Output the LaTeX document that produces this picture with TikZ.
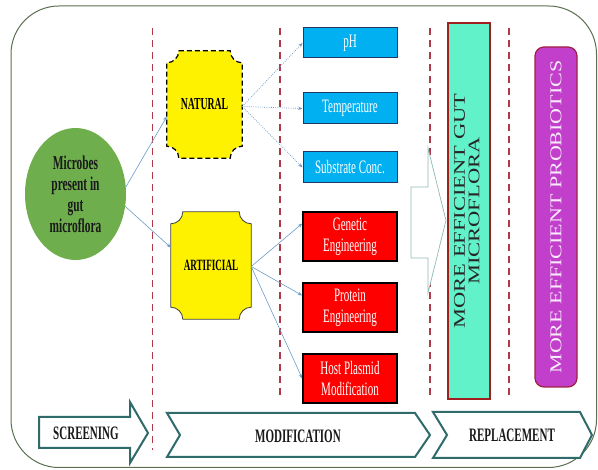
\documentclass[tikz,border=0pt]{standalone}
\usepackage{fontspec}
\setmainfont{Liberation Serif}[FakeStretch=0.58]
\newfontfamily\rotfont{Liberation Serif}
\usetikzlibrary{shapes.geometric,arrows.meta,calc}
\definecolor{framec}{HTML}{5A7050}
\definecolor{dashc}{HTML}{B03A48}
\definecolor{ellc}{HTML}{6FAE4C}
\definecolor{bluec}{HTML}{00B0F0}
\definecolor{bluebd}{HTML}{1F3864}
\definecolor{tealc}{HTML}{62F2CA}
\definecolor{tealbd}{HTML}{A02020}
\definecolor{purc}{HTML}{C23FCC}
\definecolor{purbd}{HTML}{A02040}
\definecolor{arrc}{HTML}{6A9BC8}
\definecolor{chevc}{HTML}{2F6B6B}
\definecolor{holc}{HTML}{8FB8B8}
\newcommand\plaquepath[2]{%
 ($(#1.north west)+(#2,0)$) -- ($(#1.north east)+(-#2,0)$)
 .. controls ($(#1.north east)+(-#2,0.55*#2)$) and ($(#1.north east)+(-0.55*#2,#2)$) .. ($(#1.north east)+(0,#2)$)
 -- ($(#1.south east)+(0,-#2)$)
 .. controls ($(#1.south east)+(-0.55*#2,-#2)$) and ($(#1.south east)+(-#2,-0.55*#2)$) .. ($(#1.south east)+(-#2,0)$)
 -- ($(#1.south west)+(#2,0)$)
 .. controls ($(#1.south west)+(#2,-0.55*#2)$) and ($(#1.south west)+(0.55*#2,-#2)$) .. ($(#1.south west)+(0,-#2)$)
 -- ($(#1.north west)+(0,#2)$)
 .. controls ($(#1.north west)+(0.55*#2,#2)$) and ($(#1.north west)+(#2,0.55*#2)$) .. ($(#1.north west)+(#2,0)$)
 -- cycle}
\begin{document}
\begin{tikzpicture}[x=1pt,y=-1pt,
  sepline/.style={dashc,line width=1.3pt,dash pattern=on 7pt off 5pt},
  arr/.style={arrc,line width=0.6pt,-{Stealth[length=4.5pt,width=3.5pt]}},
  dotarr/.style={arr,dash pattern=on 1pt off 1.2pt},
  bluebox/.style={draw=bluebd,line width=1pt,fill=bluec,minimum width=94pt,minimum height=31pt,text=white,
     font=\fontsize{19}{21}\selectfont,align=center,inner sep=1pt},
  redbox/.style={draw=black,line width=1.5pt,fill=red,minimum width=94pt,minimum height=49pt,text=white,
     font=\fontsize{19}{21}\selectfont,align=center,inner sep=1pt},
  chev/.style={draw=chevc,line width=2pt,fill=white,line join=miter},
  chevtext/.style={font=\bfseries\fontsize{19}{21}\selectfont,text=black!90},
  plaquebox/.style={minimum width=#1,minimum height=107pt,inner sep=0pt},
  plaquetext/.style={font=\bfseries\fontsize{16.8}{19}\selectfont,text=black}
]
\useasboundingbox (0,0) rectangle (598,470);
% frame
\draw[framec,line width=1pt,rounded corners=48pt] (11,6) rectangle (596.5,467.5);
% separators
\draw[sepline] (152.5,28) -- (152.5,450);
\draw[sepline] (280,28) -- (280,395);
\draw[sepline] (430,28) -- (430,395);
\draw[sepline] (509,28) -- (509,395);
% ellipse
\node[ellipse,fill=ellc,minimum width=101pt,minimum height=132pt,inner sep=0pt,align=center,
  font=\bfseries\fontsize{19.6}{21}\selectfont,text=black!90] (mic) at (75.5,194)
  {Microbes\\present in\\gut\\microflora};
% plaques
\node[plaquebox=75pt] (nat) at (204.5,104.5) {};
\draw[fill=yellow,draw=black,line width=1.2pt,dash pattern=on 5pt off 3pt] \plaquepath{nat}{12};
\node[plaquetext] (natt) at (nat) {NATURAL};
\node[plaquebox=80pt] (art) at (211,265.5) {};
\draw[fill=yellow,draw=black!75,line width=0.8pt] \plaquepath{art}{12};
\node[plaquetext,font=\bfseries\fontsize{15.7}{18}\selectfont] (artt) at (art) {ARTIFICIAL};
% blue boxes
\node[bluebox,minimum height=30pt] (ph) at (350,43) {pH};
\node[bluebox] (temp) at (350,108.5) {Temperature};
\node[bluebox] (sub) at (350,167.5) {Substrate Conc.};
% red boxes
\node[redbox] (gen) at (350,236.5) {Genetic\\Engineering};
\node[redbox] (pro) at (350,307.5) {Protein\\Engineering};
\node[redbox] (host) at (350,378.5) {Host Plasmid\\Modification};
% connectors
\draw[arr] (mic.8) -- ($(nat.west)+(0,12)$);
\draw[arr] (mic.-14) -- ($(art.west)+(0,-18)$);
\draw[dotarr] ($(nat.east)+(0,2)$) -- (ph.west);
\draw[dotarr] ($(nat.east)+(0,2)$) -- (temp.west);
\draw[dotarr] ($(nat.east)+(0,2)$) -- (sub.west);
\draw[arr] ($(art.east)+(0,1)$) -- ($(gen.west)+(0,-13)$);
\draw[arr] ($(art.east)+(0,1)$) -- ($(pro.west)+(0,-12)$);
\draw[arr] ($(art.east)+(0,1)$) -- (host.west);
% hollow arrow
\draw[holc,line width=0.7pt,fill=white] (411,187) -- (428,187) -- (428,148) -- (446,220.5) -- (428,293) -- (428,258) -- (411,258) -- cycle;
% teal bar
\node[draw=tealbd,line width=1.5pt,fill=tealc,minimum width=42pt,minimum height=376pt,inner sep=0pt] (gut) at (469,211) {};
\node[rotate=90,inner sep=0pt,text=black!85] (gutt) at (gut) {\scalebox{1}[0.72]{\rotfont\fontsize{22.5}{21}\selectfont\begin{tabular}{@{}c@{}}MORE EFFICIENT GUT\\[-1pt]MICROFLORA\end{tabular}}};
% purple bar
\node[draw=purbd,line width=1.2pt,fill=purc,rounded corners=9pt,minimum width=42pt,minimum height=340pt,inner sep=0pt] (pb) at (556,217) {};
\node[rotate=90,inner sep=0pt,text=white!90!purc] (pbt) at (pb) {\scalebox{1}[0.75]{\rotfont\fontsize{22}{24}\selectfont MORE EFFICIENT PROBIOTICS}};
% bottom chevrons
\draw[chev] (39,417) -- (130,417) -- (130,402) -- (148,433) -- (130,463) -- (130,448) -- (39,448) -- cycle;
\node[chevtext] (scr) at (86,433) {SCREENING};
\draw[chev] (167,413) -- (415,413) -- (430,435) -- (415,457) -- (167,457) -- (180,435) -- cycle;
\node[chevtext] (mod) at (298,436) {MODIFICATION};
\draw[chev] (433,412) -- (580,412) -- (592,435) -- (580,458) -- (433,458) -- (447,435) -- cycle;
\node[chevtext] (rep) at (512,435) {REPLACEMENT};
\end{tikzpicture}
\end{document}
